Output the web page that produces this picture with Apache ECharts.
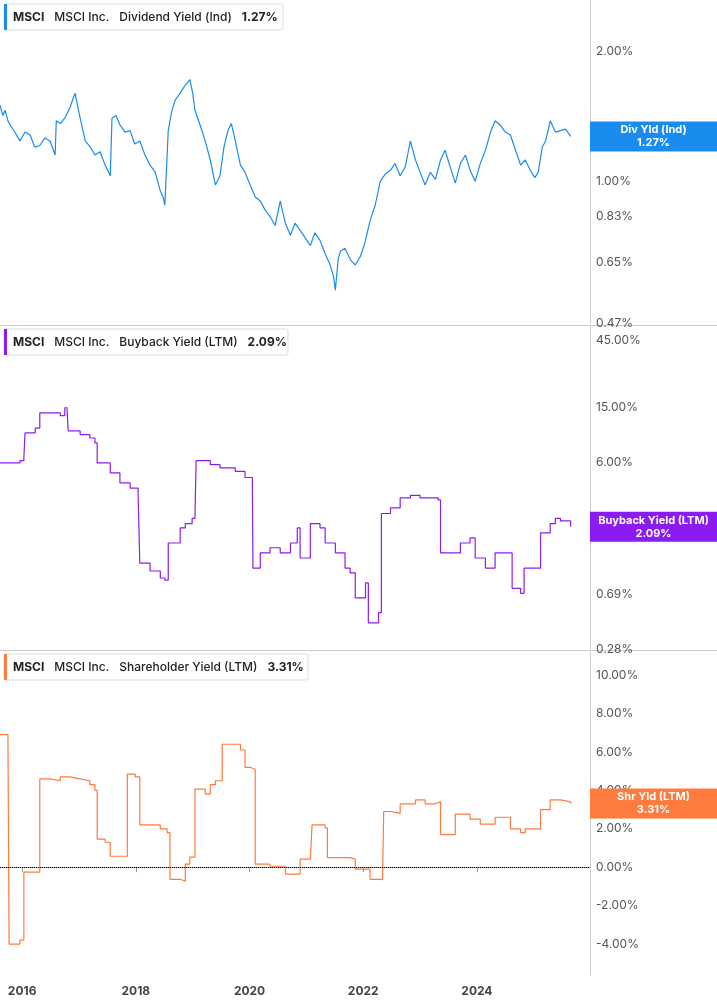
<!DOCTYPE html>
<html><head><meta charset="utf-8">
<script src="https://cdn.jsdelivr.net/npm/echarts@6/dist/echarts.min.js"></script>
<style>html,body{margin:0;padding:0;background:#fff}#c{width:717px;height:1005px}</style>
</head><body><div id="c"></div>
<script>
// ---- data (decimal years, values in %) ----
const divYears=[15.61,15.66,15.70,15.75,15.79,15.87,15.96,16.05,16.14,16.22,16.31,16.40,16.49,16.55,16.58,16.60,16.67,16.75,16.84,16.93,17.02,17.11,17.20,17.28,17.37,17.46,17.52,17.55,17.58,17.65,17.72,17.81,17.90,17.98,18.07,18.16,18.25,18.34,18.43,18.48,18.51,18.57,18.63,18.69,18.78,18.87,18.95,19.00,19.04,19.13,19.22,19.31,19.40,19.48,19.55,19.62,19.68,19.75,19.84,19.92,20.01,20.10,20.19,20.27,20.36,20.45,20.54,20.63,20.72,20.80,20.89,20.98,21.07,21.15,21.24,21.33,21.42,21.48,21.51,21.56,21.60,21.68,21.77,21.86,21.95,22.03,22.12,22.21,22.30,22.39,22.48,22.56,22.65,22.74,22.83,22.92,23.00,23.09,23.18,23.27,23.36,23.44,23.53,23.62,23.71,23.80,23.88,23.97,24.06,24.15,24.24,24.32,24.41,24.50,24.59,24.68,24.77,24.85,24.94,25.02,25.08,25.15,25.21,25.29,25.38,25.47,25.56,25.65];
const divVals=[1.50,1.42,1.46,1.38,1.35,1.30,1.24,1.30,1.28,1.20,1.21,1.26,1.24,1.18,1.15,1.38,1.36,1.40,1.48,1.60,1.40,1.24,1.20,1.15,1.17,1.09,1.05,1.03,1.40,1.42,1.35,1.30,1.31,1.22,1.24,1.15,1.09,1.05,0.95,0.92,0.88,1.31,1.45,1.54,1.60,1.67,1.72,1.60,1.46,1.35,1.24,1.12,0.98,1.03,1.20,1.31,1.36,1.24,1.09,1.05,0.98,0.92,0.90,0.86,0.83,0.79,0.90,0.80,0.75,0.80,0.77,0.74,0.71,0.76,0.73,0.68,0.64,0.60,0.56,0.66,0.69,0.70,0.66,0.64,0.67,0.72,0.81,0.88,1.00,1.04,1.06,1.10,1.03,1.08,1.24,1.12,1.05,0.98,1.05,1.01,1.12,1.18,1.08,0.99,1.10,1.15,1.06,1.00,1.10,1.18,1.30,1.38,1.35,1.30,1.28,1.18,1.09,1.12,1.06,1.02,1.05,1.20,1.24,1.38,1.30,1.31,1.32,1.27];
const bbYears=[15.61,15.96,16.03,16.05,16.23,16.31,16.49,16.67,16.75,16.79,16.81,17.02,17.19,17.28,17.32,17.55,17.72,17.90,18.04,18.07,18.25,18.43,18.51,18.57,18.78,18.87,18.99,19.04,19.06,19.31,19.48,19.75,19.92,20.05,20.06,20.19,20.36,20.54,20.72,20.84,20.89,21.07,21.24,21.33,21.51,21.68,21.77,21.86,22.04,22.09,22.27,22.30,22.32,22.48,22.65,22.83,23.00,23.32,23.36,23.53,23.71,23.88,23.97,24.15,24.32,24.55,24.62,24.77,24.83,25.03,25.08,25.12,25.29,25.38,25.47,25.65];
const bbVals=[5.97,6.2,6.5,9.8,10.6,13.6,13.6,13.0,14.8,14.2,10.1,9.5,9.0,8.3,5.97,5.07,4.3,3.95,3.5,1.15,1.01,0.90,0.87,1.6,2.05,2.2,2.4,2.4,6.2,5.8,5.5,5.2,4.7,4.3,1.06,1.36,1.48,1.36,1.6,2.05,1.25,2.2,2.05,1.6,1.36,1.06,0.98,0.65,0.83,0.43,0.51,0.51,2.6,2.85,3.36,3.5,3.36,3.25,1.36,1.36,1.6,1.74,1.25,1.06,1.36,1.36,0.76,0.70,1.06,1.06,1.06,1.89,2.2,2.4,2.3,2.09];
const shYears=[15.61,15.75,15.77,15.96,16.03,16.23,16.31,16.49,16.67,16.84,17.02,17.19,17.28,17.32,17.46,17.55,17.81,17.85,17.99,18.07,18.43,18.55,18.60,18.78,18.87,18.95,19.04,19.13,19.22,19.31,19.40,19.52,19.66,19.84,19.92,20.01,20.10,20.36,20.63,20.84,20.89,21.07,21.10,21.33,21.37,21.77,21.86,22.12,22.34,22.36,22.48,22.65,22.92,23.09,23.27,23.36,23.53,23.62,23.88,24.06,24.32,24.59,24.77,24.85,25.12,25.29,25.47,25.65];
const shVals=[6.9,6.6,-4.0,-3.8,-0.26,-0.26,4.6,4.5,4.7,4.6,4.5,4.3,4.0,1.46,1.3,0.57,0.57,4.84,4.7,2.2,2.0,1.8,-0.63,-0.73,0.16,0.52,4.06,4.06,3.8,4.3,4.5,6.4,6.4,6.1,5.2,5.1,0.16,0.05,-0.36,-0.36,0.42,0.42,2.2,2.05,0.5,0.42,-0.1,-0.63,-0.63,2.9,2.8,3.3,3.5,3.3,3.4,1.7,1.7,2.76,2.5,2.24,2.6,2.0,1.8,2.0,3.0,3.5,3.4,3.31];
const divTicks=[0.47,0.65,0.83,1.00,2.00];
const bbTicks=[0.28,0.69,6.00,15.00,45.00];
const shTicks=[-4,-2,0,2,4,6,8,10];
const yearTicks=[2016,2018,2020,2022,2024];

const C1='#1a8cf0',C2='#8a1cf2',C3='#ff7a3d';
const FONT='Inter';
const X0=2015.61,X1=2025.99;
const toLog=v=>Math.log10(v);
const mk=(ys,vs,f)=>ys.map((y,i)=>[2000+y,f?f(vs[i]):vs[i]]);
const grids=[{top:0,height:323},{top:326,height:323},{top:652,height:323}].map(g=>({left:0,right:127,...g}));
const xAx=i=>({type:'value',gridIndex:i,min:X0,max:X1,
  axisLine:{show:i===2,lineStyle:{color:'#999'}},axisTick:{show:i===2,customValues:yearTicks,lineStyle:{color:'#999'}},
  splitLine:{show:false},
  axisLabel:{show:i===2,customValues:yearTicks,color:'#444',fontFamily:FONT,fontSize:12,fontWeight:'bold',formatter:v=>String(v),margin:10}});
const lab={color:'#555',fontFamily:FONT,fontSize:12,inside:false,margin:6};
const yAx=[
 {type:'value',gridIndex:0,position:'right',min:toLog(0.47),max:0.4195,splitLine:{show:false},axisTick:{show:false},
  axisLine:{show:true,lineStyle:{color:'#ccc'}},axisLabel:{...lab,customValues:divTicks.map(toLog),formatter:v=>Math.pow(10,v).toFixed(2)+'%'}},
 {type:'value',gridIndex:1,position:'right',min:toLog(0.28),max:1.754,splitLine:{show:false},axisTick:{show:false},
  axisLine:{show:true,lineStyle:{color:'#ccc'}},axisLabel:{...lab,customValues:bbTicks.map(toLog),formatter:v=>Math.pow(10,v).toFixed(2)+'%'}},
 {type:'value',gridIndex:2,position:'right',min:-5.61,max:11.2,splitLine:{show:false},axisTick:{show:false},
  axisLine:{show:true,lineStyle:{color:'#ccc'}},axisLabel:{...lab,customValues:shTicks,formatter:v=>v.toFixed(2)+'%'}}
];
const line=(i,data,color,extra)=>({type:'line',xAxisIndex:i,yAxisIndex:i,data,showSymbol:false,symbol:'none',
  lineStyle:{color,width:1.2},animation:false,...extra});
const chart=echarts.init(document.getElementById('c'),null,{renderer:'canvas'});
chart.setOption({animation:false,grid:grids,xAxis:[0,1,2].map(xAx),yAxis:yAx,
 series:[line(0,mk(divYears,divVals,toLog),C1),line(1,mk(bbYears,bbVals,toLog),C2,{step:'end'}),
  line(2,mk(shYears,shVals),C3,{step:'end',markLine:{symbol:'none',silent:true,label:{show:false},lineStyle:{color:'#000',type:'dotted',width:1},data:[{yAxis:0}]}})]});

// overlays
const g=[];
[325,650].forEach(y=>g.push({type:'rect',shape:{x:0,y:y,width:717,height:1},style:{fill:'#ccc'},silent:true}));
const legends=[[0,4,C1,'Dividend Yield (Ind)','1.27%',279],[1,329,C2,'Buyback Yield (LTM)','2.09%',284],[2,654,C3,'Shareholder Yield (LTM)','3.31%',304]];
legends.forEach(([i,y,c,name,val,w])=>{
  g.push({type:'rect',shape:{x:4,y:y,width:w,height:26,r:2},style:{fill:'#fff',stroke:'#ddd',lineWidth:1}});
  g.push({type:'rect',shape:{x:4,y:y,width:3,height:26},style:{fill:c}});
  g.push({type:'text',x:13,y:y+13,style:{text:'{b|MSCI}   {n|MSCI Inc.}   {n|'+name+'}   {b|'+val+'}',verticalAlign:'middle',
    rich:{b:{fontFamily:FONT,fontSize:12,fontWeight:'bold',fill:'#222'},n:{fontFamily:FONT,fontSize:12,fontWeight:500,fill:'#222'}}}});
});
const tags=[[0,toLog(1.27),C1,'Div Yld (Ind)','1.27%'],[1,toLog(2.09),C2,'Buyback Yield (LTM)','2.09%'],[2,3.31,C3,'Shr Yld (LTM)','3.31%']];
tags.forEach(([i,v,c,t1,t2])=>{
  const p=chart.convertToPixel({xAxisIndex:i,yAxisIndex:i},[X1,v]);
  g.push({type:'rect',shape:{x:p[0],y:p[1]-15,width:717-p[0],height:30},style:{fill:c},z:100});
  g.push({type:'text',x:(p[0]+717)/2,y:p[1],z:101,style:{text:t1+'\n'+t2,align:'center',verticalAlign:'middle',fill:'#fff',
    fontFamily:FONT,fontSize:11,fontWeight:'bold',lineHeight:13}});
});
chart.setOption({graphic:g});
</script></body></html>
